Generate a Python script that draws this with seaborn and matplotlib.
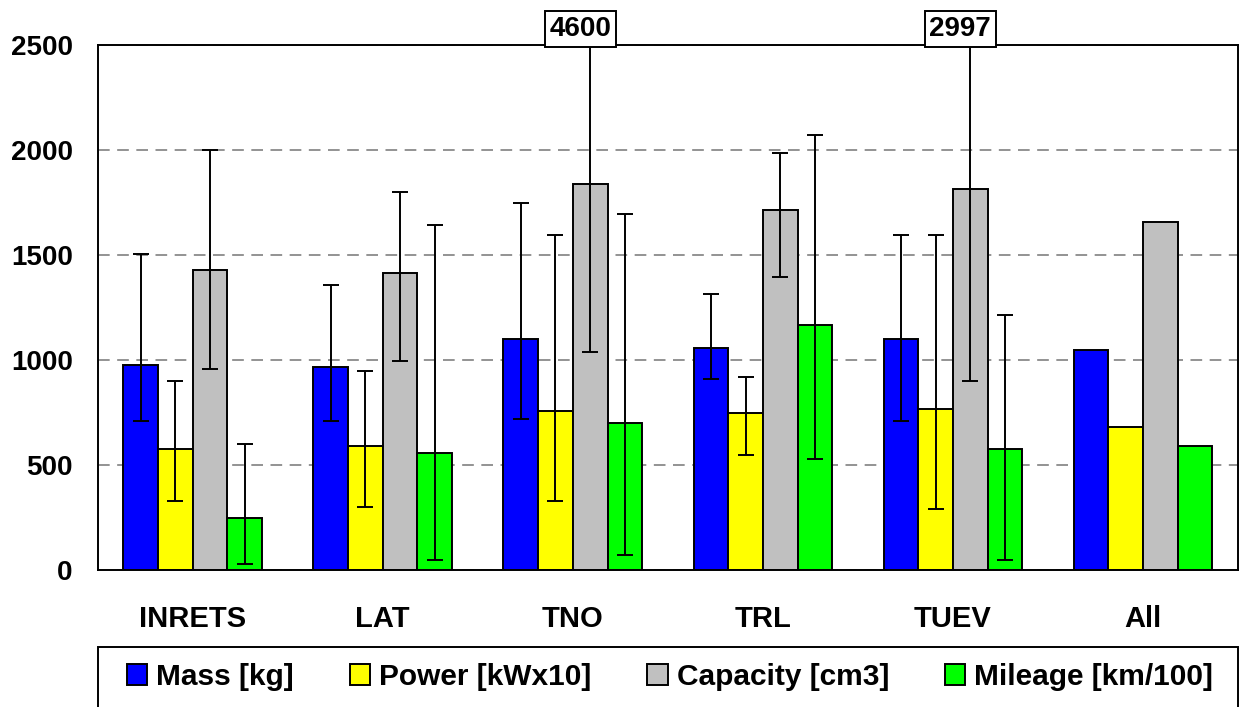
import numpy as np
import pandas as pd
import matplotlib
matplotlib.use("Agg")
import matplotlib.pyplot as plt
from matplotlib.patches import Rectangle
import seaborn as sns

# ---- data ----
labs = ["INRETS", "LAT", "TNO", "TRL", "TUEV", "All"]
series = ["Mass [kg]", "Power [kWx10]", "Capacity [cm3]", "Mileage [km/100]"]
colors = ["#0000FF", "#FFFF00", "#C0C0C0", "#00FF00"]

mass_mean = [975, 969, 1102, 1057, 1102, 1048]
mass_min = [711, 711, 720, 911, 711, np.nan]
mass_max = [1507, 1357, 1749, 1312, 1597, np.nan]

power_mean = [574, 592, 756, 747, 765, 683]
power_min = [328, 301, 328, 547, 292, np.nan]
power_max = [902, 948, 1597, 920, 1597, np.nan]

cap_mean = [1430, 1412, 1840, 1713, 1813, 1658]
cap_min = [957, 993, 1039, 1394, 902, np.nan]
cap_max = [2000, 1800, 4600, 1988, 2997, np.nan]

mil_mean = [246, 556, 702, 1166, 574, 592]
mil_min = [27, 46, 73, 528, 46, np.nan]
mil_max = [601, 1642, 1695, 2072, 1212, np.nan]

yticks = [0, 500, 1000, 1500, 2000, 2500]

means = [mass_mean, power_mean, cap_mean, mil_mean]
mins = [mass_min, power_min, cap_min, mil_min]
maxs = [mass_max, power_max, cap_max, mil_max]

rows = []
for s, m in zip(series, means):
    for lab, v in zip(labs, m):
        rows.append({"lab": lab, "series": s, "value": v})
df = pd.DataFrame(rows)

# ---- style ----
sns.set_style("white")
plt.rcParams["font.family"] = ["Liberation Sans", "DejaVu Sans"]
plt.rcParams["font.weight"] = "bold"
plt.rcParams["text.color"] = "black"
plt.rcParams["xtick.color"] = "black"
plt.rcParams["ytick.color"] = "black"
plt.rcParams["axes.labelcolor"] = "black"

W, H = 1247, 707
fig = plt.figure(figsize=(W / 100, H / 100), dpi=100)
ax_l, ax_r, ax_t, ax_b = 97.7, 1238, 45, 570
ax = fig.add_axes([ax_l / W, 1 - ax_b / H, (ax_r - ax_l) / W, (ax_b - ax_t) / H])

sns.barplot(data=df, x="lab", y="value", hue="series", order=labs,
            hue_order=series, palette=colors, width=0.73, gap=0,
            edgecolor="black", linewidth=1.4, saturation=1, ax=ax,
            legend=False, errorbar=None)

ymax = yticks[-1]
for cont, m, lo, hi in zip(ax.containers, means, mins, maxs):
    xs = [b.get_x() + b.get_width() / 2 for b in cont]
    m = np.array(m, float)
    lo = np.array(lo, float)
    hi = np.array(hi, float)
    ok = ~np.isnan(lo)
    ax.errorbar(np.array(xs)[ok], m[ok], yerr=[m[ok] - lo[ok], hi[ok] - m[ok]],
                fmt="none", ecolor="black", elinewidth=1.4, capsize=5.8,
                capthick=1.4, zorder=5)
    for x, h in zip(xs, hi):
        if not np.isnan(h) and h > ymax:
            ax.annotate(f"{int(h)}", xy=(x, 1), xycoords=("data", "axes fraction"),
                        xytext=(-10, 16), textcoords="offset pixels",
                        ha="center", va="center", fontsize=20, fontweight="bold",
                        color="black",
                        bbox=dict(boxstyle="square,pad=0.17", fc="white",
                                  ec="black", lw=1.4),
                        annotation_clip=False, zorder=10)

ax.set_ylim(0, ymax)
ax.set_yticks(yticks)
ax.set_xlim(-0.5, len(labs) - 0.5)
ax.set_xlabel("")
ax.set_ylabel("")
ax.yaxis.grid(True, color="#808080", linestyle=(0, (7, 4.5)), linewidth=1.2)
ax.xaxis.grid(False)
ax.set_axisbelow(True)
ax.tick_params(axis="both", length=0, colors="black")
ax.tick_params(axis="y", pad=18, labelsize=20)
ax.tick_params(axis="x", pad=25, labelsize=21)
for lab in ax.get_xticklabels() + ax.get_yticklabels():
    lab.set_fontweight("bold")
    lab.set_color("black")
for sp in ax.spines.values():
    sp.set_visible(True)
    sp.set_color("black")
    sp.set_linewidth(1.4)

# legend frame (bottom edge runs off the figure, as in the reference)
leg_top = 647
fig.patches.append(Rectangle((ax_l / W, -0.05), (ax_r - ax_l) / W,
                             1 - leg_top / H + 0.05, transform=fig.transFigure,
                             facecolor="white", edgecolor="black", lw=1.4,
                             zorder=0))

handles = list(ax.containers)
leg = fig.legend(handles, series, loc="center left",
                 bbox_to_anchor=(127 / W, 1 - 677 / H, (1213 - 127) / W, 0.0),
                 mode="expand", ncol=4, frameon=False,
                 prop={"weight": "bold", "size": 21.5},
                 handlelength=0.68, handleheight=0.68, handletextpad=0.3,
                 borderpad=0, borderaxespad=0, columnspacing=1.0)
for t in leg.get_texts():
    t.set_color("black")

fig.savefig("out.png", dpi=100)
